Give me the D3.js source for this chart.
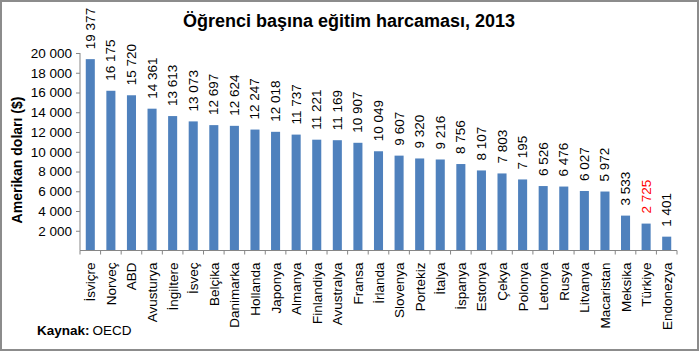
<!DOCTYPE html>
<html>
<head>
<meta charset="utf-8">
<script src="https://cdn.jsdelivr.net/npm/d3@7"></script>
<style>
  body { margin: 0; background: #fff; }
  svg { display: block; font-family: "Liberation Sans", Arial, sans-serif; }
</style>
</head>
<body>
<svg id="chart" width="700" height="352"></svg>
<script>
// chart values
var countries = ["İsviçre", "Norveç", "ABD", "Avusturya", "İngiltere", "İsveç", "Belçika",
    "Danimarka", "Hollanda", "Japonya", "Almanya", "Finlandiya", "Avustralya", "Fransa",
    "İrlanda", "Slovenya", "Portekiz", "İtalya", "İspanya", "Estonya", "Çekya", "Polonya",
    "Letonya", "Rusya", "Litvanya", "Macaristan", "Meksika", "Türkiye", "Endonezya"]
var spending = [19377, 16175, 15720, 14361, 13613, 13073, 12697, 12624, 12247, 12018,
    11737, 11221, 11169, 10907, 10049, 9607, 9320, 9216, 8756, 8107, 7803, 7195,
    6526, 6476, 6027, 5972, 3533, 2725, 1401]
var yTicks = [2000, 4000, 6000, 8000, 10000, 12000, 14000, 16000, 18000, 20000]
var highlight = "Türkiye"

var data = countries.map(function(c, i) {
    return { country: c, value: spending[i] }
})

var svg = d3.select("#chart")
var plotLeft = 80, plotRight = 677, plotTop = 53, plotBottom = 250.5

var fmt = d3.formatLocale({ decimal: ",", thousands: " ", grouping: [3], currency: ["", "$"] }).format(",d")

var x = d3.scaleBand().domain(countries).range([plotLeft, plotRight]).paddingInner(0.56).paddingOuter(0.28)
var y = d3.scaleLinear().domain([0, 20000]).range([plotBottom, plotTop])

// border
svg.append("rect")
    .attr("x", 1).attr("y", 1).attr("width", 697).attr("height", 349)
    .attr("fill", "none").attr("stroke", "#8c8c8c").attr("stroke-width", 2)

// title
svg.append("text")
    .attr("x", 349).attr("y", 27)
    .attr("text-anchor", "middle")
    .style("font-size", "18px").style("font-weight", "bold")
    .text("Öğrenci başına eğitim harcaması, 2013")

// bars
svg.selectAll("rect.bar")
    .data(data).enter().append("rect")
    .attr("class", "bar")
    .attr("x", function(d) { return x(d.country) })
    .attr("width", x.bandwidth())
    .attr("y", function(d) { return y(d.value) })
    .attr("height", function(d) { return plotBottom - y(d.value) })
    .attr("fill", "#4f81bd")

// value labels
svg.selectAll("text.val")
    .data(data).enter().append("text")
    .attr("class", "val")
    .attr("transform", function(d) {
        return "translate(" + (x(d.country) + x.bandwidth() / 2 + 4.5) + "," + (y(d.value) - 10) + ") rotate(-90)"
    })
    .style("font-size", "13.5px")
    .attr("fill", function(d) { return d.country == highlight ? "#ff0000" : "#000" })
    .text(function(d) { return fmt(d.value) })

// y axis
var yAxis = d3.axisLeft(y).tickValues(yTicks).tickSize(4).tickPadding(4).tickFormat(fmt)
var gy = svg.append("g").attr("transform", "translate(" + plotLeft + ",0)").call(yAxis)
gy.select(".domain").attr("stroke", "#868686").attr("d", "M0," + plotTop + "V" + plotBottom)
gy.selectAll(".tick line").attr("stroke", "#868686")
gy.selectAll(".tick text").style("font-size", "13.5px").attr("fill", "#000")
    .style("font-family", "'Liberation Sans', Arial, sans-serif")

// x axis, ticks at band edges
var gx = svg.append("g").attr("transform", "translate(0," + plotBottom + ")")
gx.append("line").attr("x1", plotLeft).attr("x2", plotRight).attr("stroke", "#868686")
var edges = d3.range(countries.length + 1).map(function(i) {
    return plotLeft + (plotRight - plotLeft) * i / countries.length
})
gx.selectAll("line.tk").data(edges).enter().append("line")
    .attr("class", "tk")
    .attr("x1", function(d) { return d }).attr("x2", function(d) { return d })
    .attr("y1", 0).attr("y2", 4).attr("stroke", "#868686")
gx.selectAll("text").data(countries).enter().append("text")
    .attr("transform", function(d) {
        return "translate(" + (x(d) + x.bandwidth() / 2 + 5) + ",12) rotate(-90)"
    })
    .attr("text-anchor", "end")
    .style("font-size", "13.5px")
    .text(function(d) { return d })

// y axis title
svg.append("text")
    .attr("transform", "translate(22,160) rotate(-90)")
    .attr("text-anchor", "middle")
    .style("font-size", "14px").style("font-weight", "bold")
    .text("Amerikan doları ($)")

// source
var src = svg.append("text").attr("x", 37).attr("y", 335).style("font-size", "13.5px")
src.append("tspan").style("font-weight", "bold").text("Kaynak:")
src.append("tspan").attr("dx", 3).text("OECD")
</script>
</body>
</html>
